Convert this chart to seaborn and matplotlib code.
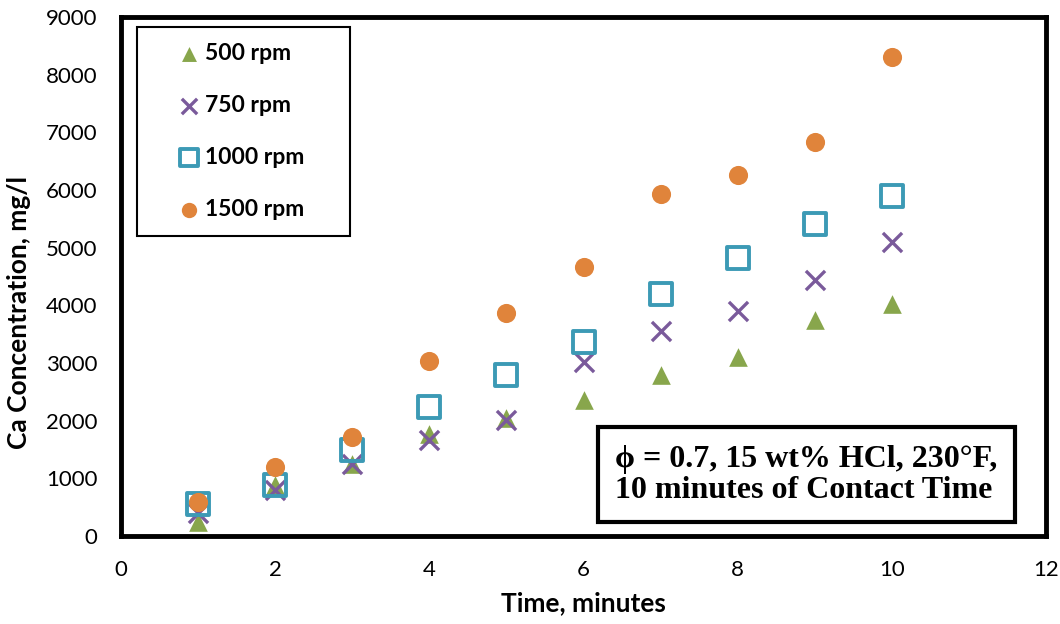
import numpy as np
import pandas as pd
import matplotlib
matplotlib.use("Agg")
import matplotlib.pyplot as plt
import seaborn as sns

time_min = [1, 2, 3, 4, 5, 6, 7, 8, 9, 10]
rpm_500 = [250, 880, 1240, 1760, 2050, 2360, 2790, 3110, 3750, 4020]
rpm_750 = [400, 800, 1240, 1670, 2010, 3010, 3550, 3900, 4430, 5090]
rpm_1000 = [550, 880, 1490, 2240, 2790, 3360, 4200, 4820, 5410, 5900]
rpm_1500 = [590, 1200, 1720, 3030, 3870, 4670, 5930, 6260, 6830, 8300]
series_names = ["500 rpm", "750 rpm", "1000 rpm", "1500 rpm"]

df = pd.DataFrame({
    "Time": time_min * 4,
    "Ca": rpm_500 + rpm_750 + rpm_1000 + rpm_1500,
    "Speed": sum([[n] * len(time_min) for n in series_names], []),
})

sns.set_style("white")
plt.rcParams["font.family"] = ["Lato", "DejaVu Sans"]
plt.rcParams["text.color"] = "black"
plt.rcParams["xtick.color"] = "black"
plt.rcParams["ytick.color"] = "black"
plt.rcParams["axes.labelcolor"] = "black"

fig = plt.figure(figsize=(10.6, 6.24), dpi=100)
ax = fig.add_axes([0.114, 0.141, 0.873, 0.832])

palette = {"500 rpm": "#88A64C", "750 rpm": "#7A5A9B",
           "1000 rpm": "#3C9AB5", "1500 rpm": "#E0843B"}
markers = {"500 rpm": "^", "750 rpm": "x", "1000 rpm": "s", "1500 rpm": "o"}

for name in series_names:
    sub = df[df["Speed"] == name]
    m = markers[name]
    if m == "s":
        kw = dict(facecolor="none", edgecolor=palette[name], linewidth=2.8, s=250)
    elif m == "x":
        kw = dict(color=palette[name], linewidth=2.4, s=190)
    elif m == "^":
        kw = dict(color=palette[name], linewidth=0, s=180)
    else:
        kw = dict(color=palette[name], linewidth=0, s=190)
    sns.scatterplot(data=sub, x="Time", y="Ca", marker=m, ax=ax,
                    label=name, zorder=3, **kw)

ax.set_xlim(0, 12)
ax.set_ylim(0, 9000)
ax.set_xticks(np.arange(0, 13, 2))
ax.set_yticks(np.arange(0, 9001, 1000))
ax.tick_params(axis="x", labelsize=16, length=0, pad=17)
ax.tick_params(axis="y", labelsize=16, length=0, pad=17)
for sp in ax.spines.values():
    sp.set_visible(True)
    sp.set_color("black")
    sp.set_linewidth(3.5)

ax.set_xlabel("Time, minutes", fontsize=19, fontweight="bold", labelpad=8)
ax.set_ylabel("Ca Concentration, mg/l", fontsize=19, fontweight="bold", labelpad=10)
ax.yaxis.set_label_coords(-0.097, 0.43)

leg = ax.legend(loc="upper left", bbox_to_anchor=(0.018, 0.58, 0.23, 0.401),
                mode="expand", fancybox=False,
                frameon=True, edgecolor="black", framealpha=1,
                prop={"weight": "bold", "size": 16.5}, labelspacing=1.35,
                handletextpad=-0.85, borderpad=0.7, borderaxespad=0,
                handlelength=3.1, markerscale=0.8)
leg.get_frame().set_linewidth(1.5)
leg.get_frame().set_boxstyle("square", pad=0)

ax.text(0.741, 0.118, "\u03d5 = 0.7, 15 wt% HCl, 230\u00b0F,\n10 minutes of Contact Time",
        transform=ax.transAxes, ha="center", va="center", multialignment="left",
        fontsize=23, fontweight="bold", family=["Liberation Serif", "DejaVu Serif"],
        linespacing=1.1,
        bbox=dict(boxstyle="square,pad=0.55", facecolor="white",
                  edgecolor="black", linewidth=3), zorder=5)

fig.savefig("out.png", dpi=100)
